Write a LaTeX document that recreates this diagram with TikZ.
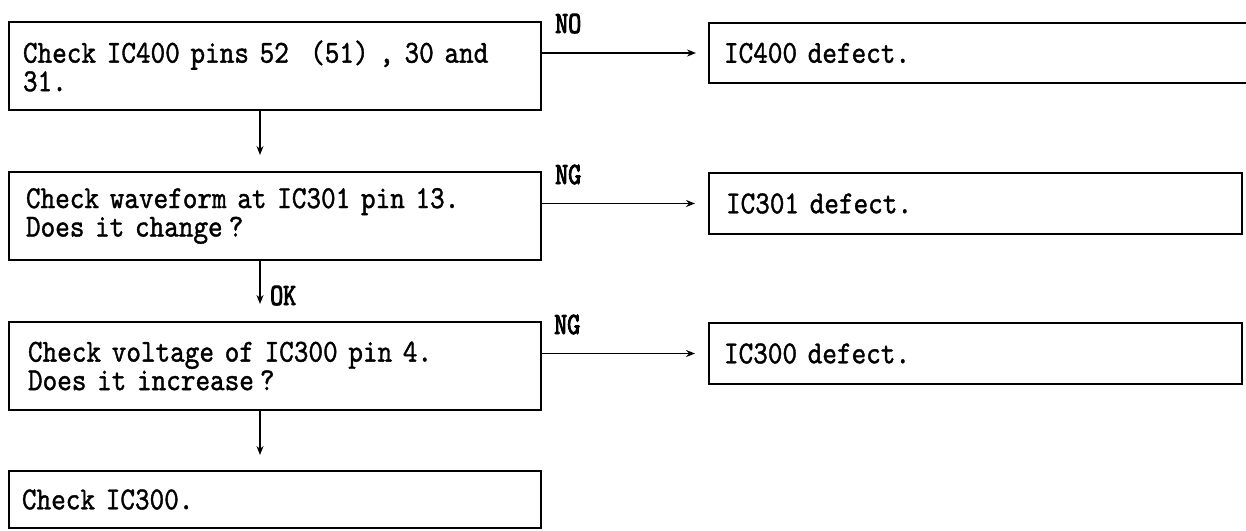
\documentclass[tikz,border=0pt]{standalone}
\usepackage{fontspec}
\setmainfont{Liberation Serif}
\newfontfamily\boxfont[Extension=.otf, FakeStretch=0.87, FakeBold=1.2]{lmmono10-regular}
\newfontfamily\labfont[Extension=.otf, FakeStretch=0.8, FakeBold=3]{lmmono10-regular}
\usetikzlibrary{arrows.meta}
\begin{document}
\begin{tikzpicture}[x=1pt,y=-1pt,
  box/.style={draw, line width=1.6pt, rectangle, outer sep=0pt, inner ysep=0pt,
    align=left, anchor=north west, font=\boxfont\fontsize{32}{28.5}\selectfont},
  lab/.style={inner sep=0pt, font=\labfont\fontsize{31}{31}\selectfont},
  arr/.style={line width=1.5pt, -{Stealth[length=9pt,width=7pt]}}]
\useasboundingbox (0,0) rectangle (1246,530);
% left column
\node[box, inner xsep=14pt, text width=504pt, minimum height=88pt] (b1) at (9,22)
  {Check IC400 pins 52~~(51)~,~30 and\\31.};
\node[box, inner xsep=17pt, text width=498pt, minimum height=88pt] (b2) at (9,172)
  {Check waveform at IC301 pin 13.\\Does it change\kern6pt?};
\node[box, inner xsep=19pt, text width=494pt, minimum height=88pt] (b3) at (9,322)
  {Check voltage of IC300 pin 4.\\Does it increase\kern6pt?};
\node[box, inner xsep=13pt, text width=506pt, minimum height=57pt] (b4) at (9,471)
  {Check IC300.};
% right column
\node[box, inner xsep=15pt, text width=515pt, minimum height=60pt] (r1) at (709,23)
  {IC400 defect.};
\node[box, inner xsep=17pt, text width=499pt, minimum height=61pt] (r2) at (709,173)
  {IC301 defect.};
\node[box, inner xsep=15pt, text width=503pt, minimum height=61pt] (r3) at (709,323)
  {IC300 defect.};
% horizontal connectors
\draw[arr] (r1.west -| b1.east) -- ([xshift=-13pt]r1.west);
\draw[arr] (r2.west -| b2.east) -- ([xshift=-14pt]r2.west);
\draw[arr] (r3.west -| b3.east) -- ([xshift=-14pt]r3.west);
% vertical connectors
\draw[arr] ([xshift=-15pt]b1.south) -- ([xshift=-15pt,yshift=17pt]b2.north);
\draw[arr] ([xshift=-15pt]b2.south) -- ([xshift=-15pt,yshift=18pt]b3.north);
\draw[arr] ([xshift=-15pt]b3.south) -- ([xshift=-15pt,yshift=16pt]b4.north);
% labels
\node[lab, anchor=base west] (lno) at (555,33) {NO};
\node[lab, anchor=base west] (lng1) at (555,184) {NG};
\node[lab, anchor=base west] (lok) at (270,305) {OK};
\node[lab, anchor=base west] (lng2) at (554,334) {NG};
\end{tikzpicture}
\end{document}
